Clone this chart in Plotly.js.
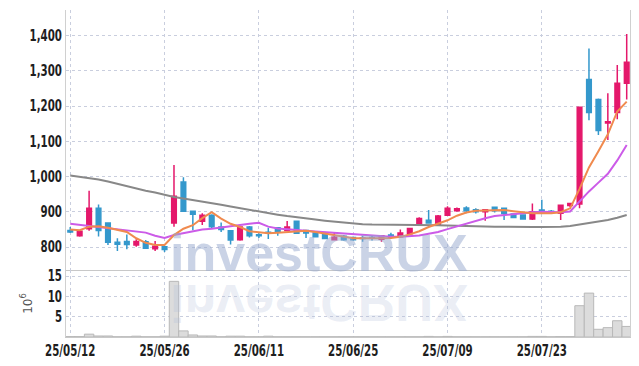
<!DOCTYPE html>
<html>
<head>
<meta charset="utf-8">
<script src="https://cdn.plot.ly/plotly-3.0.1.min.js"></script>
<style>
html,body{margin:0;padding:0;background:#fff;}
#chart{width:639px;height:366px;}
</style>
</head>
<body>
<div id="chart"></div>
<script>
const dates = ["25/05/12","25/05/13","25/05/14","25/05/15","25/05/16","25/05/19","25/05/20","25/05/21","25/05/22","25/05/23",
"25/05/26","25/05/27","25/05/28","25/05/29","25/05/30","25/06/02","25/06/04","25/06/05","25/06/09","25/06/10",
"25/06/11","25/06/12","25/06/13","25/06/16","25/06/17","25/06/18","25/06/19","25/06/20","25/06/23","25/06/24",
"25/06/25","25/06/26","25/06/27","25/06/30","25/07/01","25/07/02","25/07/03","25/07/04","25/07/07","25/07/08",
"25/07/09","25/07/10","25/07/11","25/07/14","25/07/15","25/07/16","25/07/17","25/07/18","25/07/21","25/07/22",
"25/07/23","25/07/24","25/07/25","25/07/28","25/07/29","25/07/30","25/07/31","25/08/01","25/08/04","25/08/05"];

const openP  = [847,832,852,910,868,814,816,806,815,795, 801,868,985,902,873,890,857,846,821,857, 835,842,855,847,873,847,840,836,821,831, 827,826,827,822,834,829,838,862,876,865, 890,903,911,906,900,913,910,894,891,880, 905,902,896,918,922,1276,1219,1152,1182,1265];
const highP  = [857,848,960,921,870,825,836,822,820,817, 803,1033,998,904,896,893,870,848,859,860, 839,855,856,874,874,848,841,838,840,834, 830,832,834,833,841,850,854,885,905,891, 916,912,916,910,908,915,912,896,893,924, 934,905,921,926,1198,1364,1222,1237,1317,1405];
const lowP   = [840,829,846,830,806,789,794,801,795,789, 786,858,900,848,863,853,843,807,818,827, 826,823,832,845,838,826,827,822,820,818, 818,815,819,815,823,826,836,860,866,862, 888,900,896,895,875,898,877,882,878,877, 894,895,877,914,910,1160,1118,1104,1163,1219];
const closeP = [843,845,910,847,814,808,807,816,797,802, 793,944,902,893,890,858,850,820,857,832, 832,840,845,857,839,840,829,824,828,821, 821,824,825,832,828,840,853,881,868,888, 910,909,903,900,906,903,895,884,880,900, 903,899,919,924,1197,1182,1131,1156,1265,1325];

const ma5  = [850,848,858,859,855,848,843,825,812,806, 806,834,852,862,882,899,881,866,857,845, 843,839,841,843,846,846,843,839,834,829, 825,825,824,825,826,829,836,845,857,866, 876,889,898,903,904,904,905,902,898,896, 896,896,899,910,965,1026,1072,1120,1185,1213];
const ma10 = [866,863,860,857,853,850,848,845,841,832, 826,834,840,845,850,852,856,858,862,866, 869,858,853,850,848,846,844,842,840,838, 836,834,831,829,829,829,830,833,838,843, 851,859,866,876,882,888,891,895,897,899, 900,899,899,901,930,958,983,1008,1046,1090];
const ma60 = [1003,1000,996,992,986,979,972,966,960,955, 948,942,938,934,929,925,920,915,910,905, 900,896,892,888,884,881,878,875,872,869, 866,865,864,864,864,864,864,864,863,862, 861,860,860,859,859,858,858,857,857,857, 857,857,858,860,864,869,873,877,883,891];

const volume = [0.1,0.1,0.7,0.25,0.25,0.05,0.05,0.2,0.05,0.05, 0.2,13.7,1.5,0.5,0.25,0.25,0.05,0.2,0.2,0.05, 0.05,0.2,0.05,0.05,0.05,0.05,0.05,0.05,0.05,0.05, 0.05,0.05,0.05,0.05,0.05,0.05,0.05,0.05,0.15,0.05, 0.15,0.05,0.05,0.05,0.05,0.05,0.05,0.05,0.05,0.15, 0.15,0.05,0.1,0.1,7.7,10.8,1.9,2.3,4.0,2.6];

const priceTicks = [800,900,1000,1100,1200,1300,1400];
const volTicks = [5,10,15];
const xTickLabels = ["25/05/12","25/05/26","25/06/11","25/06/25","25/07/09","25/07/23"];

const tickFont = {family:"'DejaVu Sans Condensed','DejaVu Sans',sans-serif", size:15, color:'#1e1e1e', weight:'bold'};
const gridCol = '#c9cede';

const traces = [
  {type:'candlestick', x:dates, open:openP, high:highP, low:lowP, close:closeP, xaxis:'x', yaxis:'y',
   increasing:{line:{color:'#e4186b', width:1.5}, fillcolor:'#e4186b'},
   decreasing:{line:{color:'#3498cc', width:1.5}, fillcolor:'#3498cc'},
   whiskerwidth:0, hoverinfo:'skip'},
  {type:'scatter', mode:'lines', x:dates, y:ma60, xaxis:'x', yaxis:'y', line:{color:'#888888', width:2}, hoverinfo:'skip'},
  {type:'scatter', mode:'lines', x:dates, y:ma10, xaxis:'x', yaxis:'y', line:{color:'#cc5be8', width:2}, hoverinfo:'skip'},
  {type:'scatter', mode:'lines', x:dates, y:ma5, xaxis:'x', yaxis:'y', line:{color:'#f08a4e', width:2}, hoverinfo:'skip'},
  {type:'bar', x:dates, y:volume, xaxis:'x2', yaxis:'y2', marker:{color:'#dcdcdc', line:{color:'#b8b8b8', width:1}}, hoverinfo:'skip'}
];

const xCommon = {type:'category', range:[-0.45,59.35], tickvals:xTickLabels, showgrid:true, griddash:'dot', gridcolor:gridCol, gridwidth:1,
  showline:true, linecolor:'#c8c8c8', linewidth:1, zeroline:false, ticks:'', fixedrange:true};

const layout = {
  width:639, height:366,
  margin:{l:66, r:9, t:10, b:29},
  paper_bgcolor:'#fff', plot_bgcolor:'#fff',
  showlegend:false, hovermode:false, bargap:0,
  xaxis:Object.assign({}, xCommon, {anchor:'y', showticklabels:false, rangeslider:{visible:false}}),
  xaxis2:Object.assign({}, xCommon, {anchor:'y2', showticklabels:true, tickfont:tickFont, ticktext:xTickLabels}),
  yaxis:{domain:[0.205,1], range:[735,1473], tickvals:priceTicks, tickformat:',', tickfont:tickFont,
    showgrid:true, griddash:'dot', gridcolor:gridCol, showline:true, mirror:true, linecolor:'#d0d0d0', zeroline:false, ticks:'', anchor:'x'},
  yaxis2:{domain:[0,0.205], range:[0,16.5], tickvals:volTicks, tickfont:tickFont,
    showgrid:true, griddash:'dot', gridcolor:gridCol, showline:true, mirror:true, linecolor:'#d0d0d0', zeroline:false, ticks:'', anchor:'x2',
    title:{text:'10<sup>6</sup>', font:{family:'DejaVu Sans', size:12, color:'#555'}, standoff:8}},
  annotations:[
    {text:'investCRUX', xref:'paper', yref:'paper', x:0.448, y:0.257, xanchor:'center', yanchor:'middle', showarrow:false,
     font:{family:'Liberation Sans, Arial, sans-serif', size:52, color:'rgba(150,168,205,0.5)', weight:'bold'}},
    {text:'investCRUX', xref:'paper', yref:'paper', x:0.448, y:0.105, xanchor:'center', yanchor:'middle', showarrow:false,
     font:{family:'Liberation Sans, Arial, sans-serif', size:52, color:'rgba(175,188,218,0.27)', weight:'bold'}}
  ]
};

Plotly.newPlot('chart', traces, layout, {staticPlot:true, displayModeBar:false}).then(function(){
  const anns = document.querySelectorAll('g.annotation');
  if (anns.length > 1) {
    const t = anns[1].querySelector('text');
    if (t) {
      t.style.transformBox = 'fill-box';
      t.style.transformOrigin = 'center';
      t.style.transform = 'scaleY(-1)';
    }
  }
  document.querySelectorAll('g.xtick text, g.x2tick text, g.ytick text, g.y2tick text').forEach(function(t){
    const w = t.getComputedTextLength();
    if (w > 0) {
      t.setAttribute('textLength', (w*0.76).toFixed(1));
      t.setAttribute('lengthAdjust', 'spacingAndGlyphs');
    }
  });
});
</script>
</body>
</html>
